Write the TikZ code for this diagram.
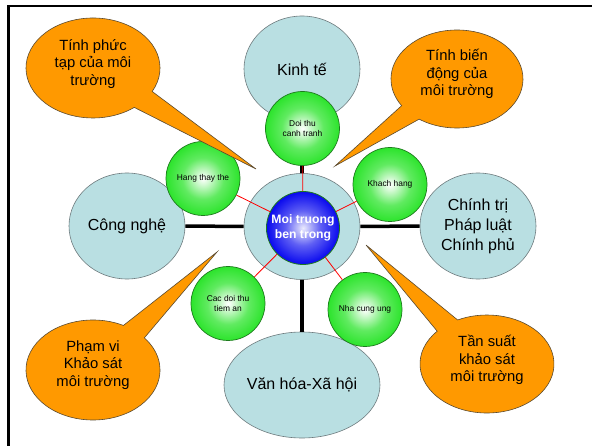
\documentclass[tikz,border=0pt]{standalone}
\usepackage{fontspec}
\setmainfont{Liberation Sans}
\usetikzlibrary{calc,shapes.geometric}

\definecolor{envfill}{HTML}{B9DFE2}
\definecolor{envline}{HTML}{6E7B7E}
\definecolor{calloutfill}{HTML}{FF9900}
\definecolor{bubbleline}{HTML}{5A4A30}
\definecolor{ballgreen}{HTML}{2CE42C}
\definecolor{balledge}{HTML}{1E7A1E}
\definecolor{ballblue}{HTML}{0808EE}

\pgfdeclareradialshading{greenball}{\pgfpoint{0bp}{0bp}}{color(0bp)=(white); color(4bp)=(white!80!ballgreen); color(14bp)=(white!25!ballgreen); color(25bp)=(ballgreen); color(50bp)=(ballgreen)}
\pgfdeclareradialshading{blueball}{\pgfpoint{0bp}{0bp}}{color(0bp)=(white!92!ballblue); color(12bp)=(white!35!ballblue); color(25bp)=(ballblue); color(50bp)=(ballblue)}

% speech bubble: centre (#1,#2), radii #3/#4, tail between parametric angles #5 and #6, tip at (#7,#8)
\newcommand\drawcallout[8]{%
  \path[bubble] ($(#1,#2)+(#5:#3 and #4)$) -- (#7,#8) -- ($(#1,#2)+(#6:#3 and #4)$)
    arc[start angle=#6, end angle=#5+360, x radius=#3, y radius=#4] -- cycle;}

\begin{document}
\begin{tikzpicture}[x=1pt,y=1pt,
  env/.style={ellipse, fill=envfill, draw=envline, line width=0.6, minimum width=116,
    minimum height=106, inner sep=0, align=center, font=\fontsize{16}{20}\selectfont},
  ball/.style={circle, shade, shading=greenball, draw=balledge, line width=0.7,
    minimum size=74, inner sep=0, align=center, font=\fontsize{8.4}{10}\selectfont},
  core/.style={circle, shade, shading=blueball, draw=balledge, line width=0.8,
    minimum size=73, inner sep=0, align=center, text=white,
    font=\bfseries\fontsize{12.2}{15}\selectfont},
  hub/.style={line width=3.5, black},
  spoke/.style={red, line width=0.8},
  bubble/.style={fill=calloutfill, draw=bubbleline, line width=0.6},
  bubbletext/.style={align=center, font=\fontsize{14.8}{17.5}\selectfont},
  frame/.style={line width=2.5}]

\useasboundingbox (0,0) rectangle (592,445);
\fill[white] (0,0) rectangle (592,445);

% outer frame
\draw[frame] (8.5,-10) -- (8.5,439) -- (610,439);

% environment ellipses
\node[env] (inner)  at (302,218.5) {};
\node[env] (kinhte) at (302,376) {Kinh tế};
\node[env] (congnghe) at (127,219) {Công nghệ};
\node[env] (chinhtri) at (478,219) {Chính trị\\Pháp luật\\Chính phủ};
\node[env] (vanhoa) at (302,60) {Văn hóa-Xã hội};

% thick links to the outer environment
\draw[hub] (inner) -- (kinhte);
\draw[hub] (inner) -- (congnghe);
\draw[hub] (inner) -- (chinhtri);
\draw[hub] (inner) -- (vanhoa);

% competitive forces
\node[ball] (doithu) at (302.5,316.5) {Doi thu\\canh tranh};
\node[ball] (hang)   at (203,266.5) {Hang thay the};
\node[ball] (khach)  at (390,260.5) {Khach hang};
\node[ball] (tiem)   at (228,141.5) {Cac doi thu\\tiem an};
\node[ball] (cung)   at (365,135.5) {Nha cung ung};

\node[core] (core) at (303,217) {Moi truong\\ben trong};

\draw[spoke] (core) -- (doithu);
\draw[spoke] (core) -- (hang);
\draw[spoke] (core) -- (khach);
\draw[spoke] (core) -- (tiem);
\draw[spoke] (core) -- (cung);

% speech bubbles
\drawcallout{93}{377}{67}{50}{-52}{-28}{256}{276}
\node[bubbletext] (phuctap) at (93,381) {Tính phức\\tạp của môi\\trường};

\drawcallout{457}{366}{66}{49}{213}{235}{335}{279}
\node[bubbletext] (biendong) at (457,371) {Tính biến\\động của\\môi trường};

\drawcallout{93}{75}{67}{50}{40}{63}{217}{193}
\node[bubbletext] (phamvi) at (93,80) {Phạm vi\\Khảo sát\\môi trường};

\drawcallout{487}{81}{67}{49}{116}{138}{366}{200}
\node[bubbletext] (tansuat) at (487,85) {Tần suất\\khảo sát\\môi trường};

\end{tikzpicture}
\end{document}
